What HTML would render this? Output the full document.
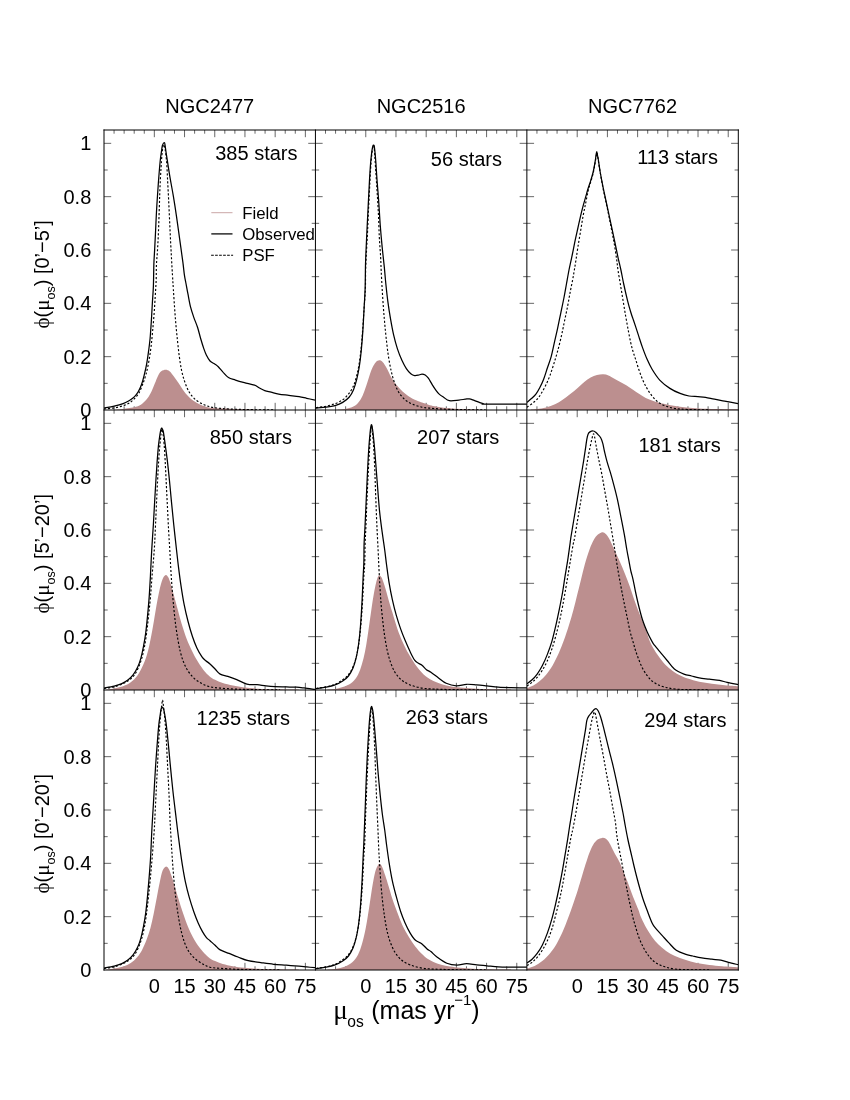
<!DOCTYPE html><html><head><meta charset="utf-8"><title>phi</title><style>
html,body{margin:0;padding:0;background:#fff}
svg{display:block;will-change:transform}
text{font-family:"Liberation Sans",sans-serif;fill:#000}
.sy{font-family:"Liberation Serif",serif}
</style></head><body>
<svg width="850" height="1100" viewBox="0 0 850 1100">
<rect width="850" height="1100" fill="#fff"/>
<defs>
<clipPath id="cp00"><rect x="104" y="130" width="211.43" height="280"/></clipPath>
<clipPath id="cp01"><rect x="315.43" y="130" width="211.44" height="280"/></clipPath>
<clipPath id="cp02"><rect x="526.87" y="130" width="211.43" height="280"/></clipPath>
<clipPath id="cp10"><rect x="104" y="410" width="211.43" height="280"/></clipPath>
<clipPath id="cp11"><rect x="315.43" y="410" width="211.44" height="280"/></clipPath>
<clipPath id="cp12"><rect x="526.87" y="410" width="211.43" height="280"/></clipPath>
<clipPath id="cp20"><rect x="104" y="690" width="211.43" height="280"/></clipPath>
<clipPath id="cp21"><rect x="315.43" y="690" width="211.44" height="280"/></clipPath>
<clipPath id="cp22"><rect x="526.87" y="690" width="211.43" height="280"/></clipPath>
</defs>
<path d="M114.07,130v3.7M114.07,410v-3.7M124.14,130v3.7M124.14,410v-3.7M134.2,130v3.7M134.2,410v-3.7M144.27,130v3.7M144.27,410v-3.7M154.34,130v7.2M154.34,410v-7.2M164.41,130v3.7M164.41,410v-3.7M174.48,130v3.7M174.48,410v-3.7M184.54,130v7.2M184.54,410v-7.2M194.61,130v3.7M194.61,410v-3.7M204.68,130v3.7M204.68,410v-3.7M214.75,130v7.2M214.75,410v-7.2M224.82,130v3.7M224.82,410v-3.7M234.89,130v3.7M234.89,410v-3.7M244.95,130v7.2M244.95,410v-7.2M255.02,130v3.7M255.02,410v-3.7M265.09,130v3.7M265.09,410v-3.7M275.16,130v7.2M275.16,410v-7.2M285.23,130v3.7M285.23,410v-3.7M295.29,130v3.7M295.29,410v-3.7M305.36,130v7.2M305.36,410v-7.2M104,383.33h3.7M315.43,383.33h-3.7M104,356.67h7.2M315.43,356.67h-7.2M104,330h3.7M315.43,330h-3.7M104,303.33h7.2M315.43,303.33h-7.2M104,276.67h3.7M315.43,276.67h-3.7M104,250h7.2M315.43,250h-7.2M104,223.33h3.7M315.43,223.33h-3.7M104,196.67h7.2M315.43,196.67h-7.2M104,170h3.7M315.43,170h-3.7M104,143.33h7.2M315.43,143.33h-7.2M325.5,130v3.7M325.5,410v-3.7M335.57,130v3.7M335.57,410v-3.7M345.63,130v3.7M345.63,410v-3.7M355.7,130v3.7M355.7,410v-3.7M365.77,130v7.2M365.77,410v-7.2M375.84,130v3.7M375.84,410v-3.7M385.91,130v3.7M385.91,410v-3.7M395.97,130v7.2M395.97,410v-7.2M406.04,130v3.7M406.04,410v-3.7M416.11,130v3.7M416.11,410v-3.7M426.18,130v7.2M426.18,410v-7.2M436.25,130v3.7M436.25,410v-3.7M446.32,130v3.7M446.32,410v-3.7M456.38,130v7.2M456.38,410v-7.2M466.45,130v3.7M466.45,410v-3.7M476.52,130v3.7M476.52,410v-3.7M486.59,130v7.2M486.59,410v-7.2M496.66,130v3.7M496.66,410v-3.7M506.72,130v3.7M506.72,410v-3.7M516.79,130v7.2M516.79,410v-7.2M315.43,383.33h3.7M526.87,383.33h-3.7M315.43,356.67h7.2M526.87,356.67h-7.2M315.43,330h3.7M526.87,330h-3.7M315.43,303.33h7.2M526.87,303.33h-7.2M315.43,276.67h3.7M526.87,276.67h-3.7M315.43,250h7.2M526.87,250h-7.2M315.43,223.33h3.7M526.87,223.33h-3.7M315.43,196.67h7.2M526.87,196.67h-7.2M315.43,170h3.7M526.87,170h-3.7M315.43,143.33h7.2M526.87,143.33h-7.2M536.94,130v3.7M536.94,410v-3.7M547.01,130v3.7M547.01,410v-3.7M557.07,130v3.7M557.07,410v-3.7M567.14,130v3.7M567.14,410v-3.7M577.21,130v7.2M577.21,410v-7.2M587.28,130v3.7M587.28,410v-3.7M597.35,130v3.7M597.35,410v-3.7M607.41,130v7.2M607.41,410v-7.2M617.48,130v3.7M617.48,410v-3.7M627.55,130v3.7M627.55,410v-3.7M637.62,130v7.2M637.62,410v-7.2M647.69,130v3.7M647.69,410v-3.7M657.76,130v3.7M657.76,410v-3.7M667.82,130v7.2M667.82,410v-7.2M677.89,130v3.7M677.89,410v-3.7M687.96,130v3.7M687.96,410v-3.7M698.03,130v7.2M698.03,410v-7.2M708.1,130v3.7M708.1,410v-3.7M718.16,130v3.7M718.16,410v-3.7M728.23,130v7.2M728.23,410v-7.2M526.87,383.33h3.7M738.3,383.33h-3.7M526.87,356.67h7.2M738.3,356.67h-7.2M526.87,330h3.7M738.3,330h-3.7M526.87,303.33h7.2M738.3,303.33h-7.2M526.87,276.67h3.7M738.3,276.67h-3.7M526.87,250h7.2M738.3,250h-7.2M526.87,223.33h3.7M738.3,223.33h-3.7M526.87,196.67h7.2M738.3,196.67h-7.2M526.87,170h3.7M738.3,170h-3.7M526.87,143.33h7.2M738.3,143.33h-7.2M114.07,410v3.7M114.07,690v-3.7M124.14,410v3.7M124.14,690v-3.7M134.2,410v3.7M134.2,690v-3.7M144.27,410v3.7M144.27,690v-3.7M154.34,410v7.2M154.34,690v-7.2M164.41,410v3.7M164.41,690v-3.7M174.48,410v3.7M174.48,690v-3.7M184.54,410v7.2M184.54,690v-7.2M194.61,410v3.7M194.61,690v-3.7M204.68,410v3.7M204.68,690v-3.7M214.75,410v7.2M214.75,690v-7.2M224.82,410v3.7M224.82,690v-3.7M234.89,410v3.7M234.89,690v-3.7M244.95,410v7.2M244.95,690v-7.2M255.02,410v3.7M255.02,690v-3.7M265.09,410v3.7M265.09,690v-3.7M275.16,410v7.2M275.16,690v-7.2M285.23,410v3.7M285.23,690v-3.7M295.29,410v3.7M295.29,690v-3.7M305.36,410v7.2M305.36,690v-7.2M104,663.33h3.7M315.43,663.33h-3.7M104,636.67h7.2M315.43,636.67h-7.2M104,610h3.7M315.43,610h-3.7M104,583.33h7.2M315.43,583.33h-7.2M104,556.67h3.7M315.43,556.67h-3.7M104,530h7.2M315.43,530h-7.2M104,503.33h3.7M315.43,503.33h-3.7M104,476.67h7.2M315.43,476.67h-7.2M104,450h3.7M315.43,450h-3.7M104,423.33h7.2M315.43,423.33h-7.2M325.5,410v3.7M325.5,690v-3.7M335.57,410v3.7M335.57,690v-3.7M345.63,410v3.7M345.63,690v-3.7M355.7,410v3.7M355.7,690v-3.7M365.77,410v7.2M365.77,690v-7.2M375.84,410v3.7M375.84,690v-3.7M385.91,410v3.7M385.91,690v-3.7M395.97,410v7.2M395.97,690v-7.2M406.04,410v3.7M406.04,690v-3.7M416.11,410v3.7M416.11,690v-3.7M426.18,410v7.2M426.18,690v-7.2M436.25,410v3.7M436.25,690v-3.7M446.32,410v3.7M446.32,690v-3.7M456.38,410v7.2M456.38,690v-7.2M466.45,410v3.7M466.45,690v-3.7M476.52,410v3.7M476.52,690v-3.7M486.59,410v7.2M486.59,690v-7.2M496.66,410v3.7M496.66,690v-3.7M506.72,410v3.7M506.72,690v-3.7M516.79,410v7.2M516.79,690v-7.2M315.43,663.33h3.7M526.87,663.33h-3.7M315.43,636.67h7.2M526.87,636.67h-7.2M315.43,610h3.7M526.87,610h-3.7M315.43,583.33h7.2M526.87,583.33h-7.2M315.43,556.67h3.7M526.87,556.67h-3.7M315.43,530h7.2M526.87,530h-7.2M315.43,503.33h3.7M526.87,503.33h-3.7M315.43,476.67h7.2M526.87,476.67h-7.2M315.43,450h3.7M526.87,450h-3.7M315.43,423.33h7.2M526.87,423.33h-7.2M536.94,410v3.7M536.94,690v-3.7M547.01,410v3.7M547.01,690v-3.7M557.07,410v3.7M557.07,690v-3.7M567.14,410v3.7M567.14,690v-3.7M577.21,410v7.2M577.21,690v-7.2M587.28,410v3.7M587.28,690v-3.7M597.35,410v3.7M597.35,690v-3.7M607.41,410v7.2M607.41,690v-7.2M617.48,410v3.7M617.48,690v-3.7M627.55,410v3.7M627.55,690v-3.7M637.62,410v7.2M637.62,690v-7.2M647.69,410v3.7M647.69,690v-3.7M657.76,410v3.7M657.76,690v-3.7M667.82,410v7.2M667.82,690v-7.2M677.89,410v3.7M677.89,690v-3.7M687.96,410v3.7M687.96,690v-3.7M698.03,410v7.2M698.03,690v-7.2M708.1,410v3.7M708.1,690v-3.7M718.16,410v3.7M718.16,690v-3.7M728.23,410v7.2M728.23,690v-7.2M526.87,663.33h3.7M738.3,663.33h-3.7M526.87,636.67h7.2M738.3,636.67h-7.2M526.87,610h3.7M738.3,610h-3.7M526.87,583.33h7.2M738.3,583.33h-7.2M526.87,556.67h3.7M738.3,556.67h-3.7M526.87,530h7.2M738.3,530h-7.2M526.87,503.33h3.7M738.3,503.33h-3.7M526.87,476.67h7.2M738.3,476.67h-7.2M526.87,450h3.7M738.3,450h-3.7M526.87,423.33h7.2M738.3,423.33h-7.2M114.07,690v3.7M114.07,970v-3.7M124.14,690v3.7M124.14,970v-3.7M134.2,690v3.7M134.2,970v-3.7M144.27,690v3.7M144.27,970v-3.7M154.34,690v7.2M154.34,970v-7.2M164.41,690v3.7M164.41,970v-3.7M174.48,690v3.7M174.48,970v-3.7M184.54,690v7.2M184.54,970v-7.2M194.61,690v3.7M194.61,970v-3.7M204.68,690v3.7M204.68,970v-3.7M214.75,690v7.2M214.75,970v-7.2M224.82,690v3.7M224.82,970v-3.7M234.89,690v3.7M234.89,970v-3.7M244.95,690v7.2M244.95,970v-7.2M255.02,690v3.7M255.02,970v-3.7M265.09,690v3.7M265.09,970v-3.7M275.16,690v7.2M275.16,970v-7.2M285.23,690v3.7M285.23,970v-3.7M295.29,690v3.7M295.29,970v-3.7M305.36,690v7.2M305.36,970v-7.2M104,943.33h3.7M315.43,943.33h-3.7M104,916.67h7.2M315.43,916.67h-7.2M104,890h3.7M315.43,890h-3.7M104,863.33h7.2M315.43,863.33h-7.2M104,836.67h3.7M315.43,836.67h-3.7M104,810h7.2M315.43,810h-7.2M104,783.33h3.7M315.43,783.33h-3.7M104,756.67h7.2M315.43,756.67h-7.2M104,730h3.7M315.43,730h-3.7M104,703.33h7.2M315.43,703.33h-7.2M325.5,690v3.7M325.5,970v-3.7M335.57,690v3.7M335.57,970v-3.7M345.63,690v3.7M345.63,970v-3.7M355.7,690v3.7M355.7,970v-3.7M365.77,690v7.2M365.77,970v-7.2M375.84,690v3.7M375.84,970v-3.7M385.91,690v3.7M385.91,970v-3.7M395.97,690v7.2M395.97,970v-7.2M406.04,690v3.7M406.04,970v-3.7M416.11,690v3.7M416.11,970v-3.7M426.18,690v7.2M426.18,970v-7.2M436.25,690v3.7M436.25,970v-3.7M446.32,690v3.7M446.32,970v-3.7M456.38,690v7.2M456.38,970v-7.2M466.45,690v3.7M466.45,970v-3.7M476.52,690v3.7M476.52,970v-3.7M486.59,690v7.2M486.59,970v-7.2M496.66,690v3.7M496.66,970v-3.7M506.72,690v3.7M506.72,970v-3.7M516.79,690v7.2M516.79,970v-7.2M315.43,943.33h3.7M526.87,943.33h-3.7M315.43,916.67h7.2M526.87,916.67h-7.2M315.43,890h3.7M526.87,890h-3.7M315.43,863.33h7.2M526.87,863.33h-7.2M315.43,836.67h3.7M526.87,836.67h-3.7M315.43,810h7.2M526.87,810h-7.2M315.43,783.33h3.7M526.87,783.33h-3.7M315.43,756.67h7.2M526.87,756.67h-7.2M315.43,730h3.7M526.87,730h-3.7M315.43,703.33h7.2M526.87,703.33h-7.2M536.94,690v3.7M536.94,970v-3.7M547.01,690v3.7M547.01,970v-3.7M557.07,690v3.7M557.07,970v-3.7M567.14,690v3.7M567.14,970v-3.7M577.21,690v7.2M577.21,970v-7.2M587.28,690v3.7M587.28,970v-3.7M597.35,690v3.7M597.35,970v-3.7M607.41,690v7.2M607.41,970v-7.2M617.48,690v3.7M617.48,970v-3.7M627.55,690v3.7M627.55,970v-3.7M637.62,690v7.2M637.62,970v-7.2M647.69,690v3.7M647.69,970v-3.7M657.76,690v3.7M657.76,970v-3.7M667.82,690v7.2M667.82,970v-7.2M677.89,690v3.7M677.89,970v-3.7M687.96,690v3.7M687.96,970v-3.7M698.03,690v7.2M698.03,970v-7.2M708.1,690v3.7M708.1,970v-3.7M718.16,690v3.7M718.16,970v-3.7M728.23,690v7.2M728.23,970v-7.2M526.87,943.33h3.7M738.3,943.33h-3.7M526.87,916.67h7.2M738.3,916.67h-7.2M526.87,890h3.7M738.3,890h-3.7M526.87,863.33h7.2M738.3,863.33h-7.2M526.87,836.67h3.7M738.3,836.67h-3.7M526.87,810h7.2M738.3,810h-7.2M526.87,783.33h3.7M738.3,783.33h-3.7M526.87,756.67h7.2M738.3,756.67h-7.2M526.87,730h3.7M738.3,730h-3.7M526.87,703.33h7.2M738.3,703.33h-7.2" stroke="#000" stroke-width="0.6" fill="none"/>
<g clip-path="url(#cp00)">
<path d="M116.73,409.62C117.79,409.51 119.91,409.45 123.09,408.98C126.27,408.52 132.63,407.71 135.81,406.82C138.99,405.93 140.27,405.02 142.18,403.64C144.08,402.26 145.67,400.67 147.27,398.55C148.86,396.42 150.45,393.45 151.72,390.91C152.99,388.36 153.84,385.82 154.9,383.27C155.96,380.73 157.02,377.65 158.08,375.64C159.14,373.62 159.99,372.18 161.26,371.18C162.54,370.18 164.34,369.65 165.72,369.65C167.1,369.65 168.26,370.18 169.53,371.18C170.81,372.18 171.97,373.83 173.35,375.64C174.73,377.44 176.21,379.67 177.81,382C179.4,384.33 181.2,387.3 182.9,389.64C184.59,391.97 186.29,394.2 187.99,396C189.68,397.8 191.17,399.08 193.08,400.45C194.98,401.83 197.32,403.21 199.44,404.27C201.56,405.33 204.04,406.25 205.8,406.82C207.56,407.39 208.03,407.48 210,407.71C211.97,407.94 214.45,408.05 217.64,408.22C220.82,408.39 224.85,408.54 229.09,408.73C233.33,408.92 238.84,409.19 243.09,409.36C247.33,409.53 252.63,409.68 254.54,409.75L254.54,411 L116.73,411 Z" fill="#bc8f8f"/>
<path d="M104,408.98C106.12,408.73 112.91,408.24 116.73,407.45C120.54,406.67 124.15,405.55 126.91,404.27C129.66,403 131.32,401.62 133.27,399.82C135.22,398.02 137.06,396 138.61,393.45C140.16,390.91 141.33,387.73 142.56,384.55C143.79,381.36 144.95,378.18 145.99,374.36C147.03,370.55 147.94,366.3 148.79,361.64C149.64,356.97 150.45,351.45 151.08,346.36C151.72,341.27 152.1,336.61 152.61,331.09C153.12,325.58 153.69,319.21 154.14,313.27C154.58,307.33 154.94,300.97 155.28,295.45C155.62,289.94 155.98,285.27 156.17,280.18C156.36,275.09 156.22,269.79 156.43,264.91C156.64,260.03 157.11,256.42 157.45,250.91C157.78,245.39 158.15,239.24 158.46,231.82C158.78,224.39 159.1,213.79 159.35,206.36C159.61,198.94 159.71,193.64 159.99,187.27C160.27,180.91 160.69,173.48 161.01,168.18C161.33,162.88 161.6,158.85 161.9,155.45C162.2,152.06 162.51,149.62 162.79,147.82C163.07,146.02 163.3,144.95 163.55,144.64C163.81,144.32 164.06,145.17 164.32,145.91C164.57,146.65 164.7,146.44 165.08,149.09C165.46,151.74 166.18,156.52 166.61,161.82C167.03,167.12 167.29,174.55 167.63,180.91C167.96,187.27 168.33,193.64 168.64,200C168.96,206.36 169.24,212.73 169.53,219.09C169.83,225.45 170.11,231.82 170.42,238.18C170.74,244.55 171.1,251.12 171.44,257.27C171.78,263.42 172.14,269.79 172.46,275.09C172.78,280.39 172.99,283.58 173.35,289.09C173.71,294.61 174.2,302.24 174.62,308.18C175.05,314.12 175.41,319.21 175.9,324.73C176.38,330.24 176.98,335.97 177.55,341.27C178.12,346.58 178.65,351.67 179.33,356.55C180.01,361.42 180.71,366.3 181.62,370.55C182.54,374.79 183.53,378.39 184.8,382C186.08,385.61 187.46,389.21 189.26,392.18C191.06,395.15 193.29,397.8 195.62,399.82C197.95,401.83 200.86,403.11 203.26,404.27C205.65,405.44 207.6,406.18 210,406.82C212.4,407.45 214.45,407.73 217.64,408.09C220.82,408.45 224,408.73 229.09,408.98C234.18,409.24 240.75,409.47 248.18,409.62C255.6,409.77 269.38,409.83 273.63,409.87" fill="none" stroke="#000" stroke-width="1.15" stroke-dasharray="2.1 1.9"/>
<path d="M104,408.09C105.7,407.77 111,406.92 114.18,406.18C117.36,405.44 120.54,404.59 123.09,403.64C125.63,402.68 127.54,401.62 129.45,400.45C131.36,399.29 133.06,398.12 134.54,396.64C136.02,395.15 137.19,393.56 138.36,391.55C139.52,389.53 140.58,387.2 141.54,384.55C142.49,381.89 143.24,379.03 144.08,375.64C144.93,372.24 145.89,368.21 146.63,364.18C147.37,360.15 147.97,355.7 148.54,351.45C149.11,347.21 149.6,343.82 150.06,338.73C150.53,333.64 150.96,326.85 151.34,320.91C151.72,314.97 152.02,308.82 152.36,303.09C152.69,297.36 153.12,293.12 153.37,286.55C153.63,279.97 153.67,269.79 153.88,263.64C154.09,257.48 154.37,254.94 154.65,249.64C154.92,244.33 155.24,237.97 155.54,231.82C155.83,225.67 156.11,218.67 156.43,212.73C156.75,206.79 157.06,201.91 157.45,196.18C157.83,190.45 158.25,184.3 158.72,178.36C159.18,172.42 159.76,165.21 160.24,160.55C160.73,155.88 161.28,152.87 161.64,150.36C162.01,147.86 161.94,146.8 162.41,145.53C162.87,144.25 163.98,142.6 164.44,142.73C164.91,142.85 164.93,144.64 165.21,146.29C165.48,147.95 165.65,149.68 166.1,152.65C166.54,155.62 167.2,159.82 167.88,164.11C168.56,168.39 169.26,173.02 170.17,178.36C171.08,183.71 172.29,189.82 173.35,196.18C174.41,202.55 175.47,209.33 176.53,216.55C177.59,223.76 178.65,231.82 179.71,239.45C180.77,247.09 182.11,256.42 182.9,262.36C183.68,268.3 183.89,271.48 184.42,275.09C184.95,278.7 185.48,280.82 186.08,284C186.67,287.18 187.24,290.36 187.99,294.18C188.73,298 189.58,303.09 190.53,306.91C191.48,310.73 192.55,313.7 193.71,317.09C194.88,320.48 196.36,323.67 197.53,327.27C198.7,330.88 199.65,335.12 200.71,338.73C201.77,342.33 202.94,346.15 203.89,348.91C204.85,351.67 205.42,353.26 206.44,355.27C207.45,357.29 208.56,359.52 210,361C211.44,362.48 213.71,363.23 215.09,364.18C216.47,365.14 217,365.45 218.27,366.73C219.54,368 221.03,370.02 222.73,371.82C224.42,373.62 226.33,376.17 228.45,377.55C230.57,378.92 232.8,379.24 235.45,380.09C238.1,380.94 241.18,381.79 244.36,382.64C247.54,383.48 252.1,384.33 254.54,385.18C256.98,386.03 257.29,386.82 258.99,387.73C260.69,388.64 262.7,389.91 264.72,390.65C266.73,391.4 268.75,391.61 271.08,392.18C273.41,392.75 275.75,393.56 278.72,394.09C281.68,394.62 285.5,394.94 288.9,395.36C292.29,395.79 296.11,396.15 299.08,396.64C302.04,397.12 304.06,397.72 306.71,398.29C309.36,398.86 313.6,399.78 314.98,400.07" fill="none" stroke="#000" stroke-width="1.25" stroke-linejoin="round"/>
</g>
<g clip-path="url(#cp01)">
<path d="M337.63,409.62C338.91,409.51 342.72,409.45 345.27,408.98C347.81,408.52 350.78,407.82 352.9,406.82C355.02,405.82 356.4,404.8 357.99,403C359.58,401.2 361.07,398.86 362.45,396C363.83,393.14 365.1,389.21 366.26,385.82C367.43,382.42 368.38,378.71 369.45,375.64C370.51,372.56 371.57,369.59 372.63,367.36C373.69,365.14 374.68,363.44 375.81,362.27C376.93,361.11 378.2,360.36 379.37,360.36C380.54,360.36 381.6,361 382.81,362.27C384.02,363.55 385.25,365.56 386.62,368C388,370.44 389.49,374.15 391.08,376.91C392.67,379.67 394.26,382.11 396.17,384.55C398.08,386.98 400.2,389.42 402.53,391.55C404.86,393.67 407.62,395.68 410.17,397.27C412.71,398.86 415.83,400.2 417.8,401.09C419.77,401.98 420.24,402.02 422,402.62C423.76,403.21 426.24,404.06 428.36,404.65C430.48,405.25 432.18,405.67 434.73,406.18C437.27,406.69 440.24,407.28 443.63,407.71C447.03,408.13 451.27,408.45 455.09,408.73C458.9,409 462.51,409.19 466.54,409.36C470.57,409.53 477.14,409.68 479.26,409.75L479.26,411 L337.63,411 Z" fill="#bc8f8f"/>
<path d="M316,407.71C317.7,407.45 323,406.86 326.18,406.18C329.36,405.5 332.33,404.7 335.09,403.64C337.84,402.58 340.5,401.41 342.72,399.82C344.95,398.23 346.75,396.21 348.45,394.09C350.15,391.97 351.63,389.74 352.9,387.09C354.18,384.44 355.13,381.58 356.08,378.18C357.04,374.79 357.84,371.18 358.63,366.73C359.41,362.27 360.13,357.39 360.79,351.45C361.45,345.52 362.02,338.3 362.57,331.09C363.13,323.88 363.63,315.18 364.1,308.18C364.57,301.18 365.12,295.45 365.37,289.09C365.63,282.73 365.44,276.36 365.63,270C365.82,263.64 366.2,257.27 366.52,250.91C366.84,244.55 367.18,239.24 367.54,231.82C367.9,224.39 368.28,214.85 368.68,206.36C369.08,197.88 369.55,188.33 369.95,180.91C370.36,173.48 370.72,166.8 371.1,161.82C371.48,156.83 371.93,153.59 372.24,151C372.56,148.41 372.8,147.25 373.01,146.29C373.22,145.34 373.35,145.27 373.52,145.27C373.69,145.27 373.86,145.23 374.03,146.29C374.2,147.35 374.34,149.05 374.54,151.64C374.73,154.22 374.79,155.88 375.17,161.82C375.55,167.76 376.3,178.79 376.83,187.27C377.36,195.76 377.93,204.24 378.35,212.73C378.78,221.21 378.99,230.76 379.37,238.18C379.75,245.61 380.35,251.97 380.64,257.27C380.94,262.58 380.9,264.7 381.15,270C381.41,275.3 381.79,282.73 382.17,289.09C382.55,295.45 383.02,302.45 383.44,308.18C383.87,313.91 384.25,318.36 384.72,323.45C385.18,328.55 385.65,333.42 386.24,338.73C386.84,344.03 387.47,349.97 388.28,355.27C389.08,360.58 390.08,366.09 391.08,370.55C392.07,375 392.99,378.39 394.26,382C395.53,385.61 396.91,389.21 398.71,392.18C400.52,395.15 402.74,397.8 405.08,399.82C407.41,401.83 409.89,403.04 412.71,404.27C415.53,405.5 419.18,406.56 422,407.2C424.82,407.84 426.45,407.79 429.64,408.09C432.82,408.39 436,408.73 441.09,408.98C446.18,409.24 452.75,409.47 460.18,409.62C467.6,409.77 481.38,409.83 485.63,409.87" fill="none" stroke="#000" stroke-width="1.15" stroke-dasharray="2.1 1.9"/>
<path d="M316,408.09C317.7,407.94 323,407.62 326.18,407.2C329.36,406.78 332.33,406.35 335.09,405.55C337.84,404.74 340.39,403.74 342.72,402.36C345.06,400.98 347.28,399.39 349.09,397.27C350.89,395.15 352.27,392.61 353.54,389.64C354.81,386.67 355.77,383.27 356.72,379.45C357.67,375.64 358.52,371.39 359.27,366.73C360.01,362.06 360.58,357.39 361.17,351.45C361.77,345.52 362.34,338.3 362.83,331.09C363.32,323.88 363.72,315.18 364.1,308.18C364.48,301.18 364.89,296.3 365.12,289.09C365.35,281.88 365.35,271.27 365.5,264.91C365.65,258.55 365.78,256.42 366.01,250.91C366.24,245.39 366.54,239.24 366.9,231.82C367.26,224.39 367.75,214.85 368.17,206.36C368.6,197.88 369.02,188.33 369.45,180.91C369.87,173.48 370.29,166.91 370.72,161.82C371.14,156.73 371.63,153.02 371.99,150.36C372.35,147.71 372.63,146.8 372.88,145.91C373.14,145.02 373.31,145.02 373.52,145.02C373.73,145.02 373.94,145.02 374.15,145.91C374.37,146.8 374.51,147.71 374.79,150.36C375.07,153.02 375.43,156.73 375.81,161.82C376.19,166.91 376.61,174.55 377.08,180.91C377.55,187.27 378.08,192.58 378.61,200C379.14,207.42 379.67,217.61 380.26,225.45C380.86,233.3 381.51,240.3 382.17,247.09C382.83,253.88 383.57,259.82 384.21,266.18C384.84,272.55 385.37,279.33 385.99,285.27C386.6,291.21 387.15,296.3 387.9,301.82C388.64,307.33 389.49,312.85 390.44,318.36C391.4,323.88 392.46,329.82 393.62,334.91C394.79,340 396.06,344.67 397.44,348.91C398.82,353.15 400.41,357.08 401.89,360.36C403.38,363.65 404.86,366.41 406.35,368.64C407.83,370.86 409.42,372.56 410.8,373.73C412.18,374.89 413.24,375.42 414.62,375.64C416,375.85 417.84,375.25 419.07,375C420.3,374.75 420.98,374.11 422,374.11C423.02,374.11 424.12,374.32 425.18,375C426.24,375.68 427.2,376.59 428.36,378.18C429.53,379.77 430.91,382.53 432.18,384.55C433.45,386.56 434.83,388.68 436,390.27C437.16,391.86 437.91,392.92 439.18,394.09C440.45,395.26 441.94,396.17 443.63,397.27C445.33,398.38 446.81,400.24 449.36,400.71C451.9,401.18 456.25,400.33 458.9,400.07C461.55,399.82 463.53,399.39 465.27,399.18C467,398.97 467.85,398.59 469.34,398.8C470.82,399.01 472.52,399.86 474.17,400.45C475.83,401.05 477.67,401.79 479.26,402.36C480.85,402.94 482.66,403.62 483.72,403.89C484.78,404.17 478.24,404 485.63,404.02C493.01,404.04 520.94,404.02 528,404.02" fill="none" stroke="#000" stroke-width="1.25" stroke-linejoin="round"/>
</g>
<g clip-path="url(#cp02)">
<path d="M530.82,409.62C531.88,409.51 534.64,409.34 537.18,408.98C539.73,408.62 543.12,408.24 546.09,407.45C549.06,406.67 552.24,405.55 555,404.27C557.75,403 560.09,401.52 562.63,399.82C565.18,398.12 567.72,396.11 570.27,394.09C572.81,392.08 575.57,389.74 577.9,387.73C580.23,385.71 582.14,383.7 584.26,382C586.38,380.3 588.5,378.71 590.63,377.55C592.75,376.38 594.87,375.53 596.99,375C599.11,374.47 601.44,374.3 603.35,374.36C605.26,374.43 606.74,374.75 608.44,375.38C610.14,376.02 611.62,377.12 613.53,378.18C615.44,379.24 617.77,380.58 619.89,381.75C622.01,382.91 624.07,383.87 626.26,385.18C628.44,386.5 630.82,388.15 633,389.64C635.18,391.12 637.24,392.71 639.36,394.09C641.48,395.47 643.39,396.76 645.73,397.91C648.06,399.05 650.6,400.03 653.36,400.96C656.12,401.9 658.87,402.7 662.27,403.51C665.66,404.32 669.69,405.14 673.72,405.8C677.75,406.46 682.2,407.01 686.45,407.45C690.69,407.9 694.29,408.2 699.17,408.47C704.05,408.75 709.24,408.94 715.71,409.11C722.18,409.28 734.27,409.43 737.98,409.49L737.98,411 L530.82,411 Z" fill="#bc8f8f"/>
<path d="M527,407.2C527.85,406.61 530.39,404.97 532.09,403.64C533.79,402.3 535.59,400.98 537.18,399.18C538.77,397.38 540.15,395.26 541.63,392.82C543.12,390.38 544.71,387.41 546.09,384.55C547.47,381.68 548.63,379.03 549.91,375.64C551.18,372.24 552.45,368.21 553.72,364.18C555,360.15 556.27,356.12 557.54,351.45C558.81,346.79 560.19,341.27 561.36,336.18C562.52,331.09 563.48,326 564.54,320.91C565.6,315.82 566.77,310.52 567.72,305.64C568.67,300.76 569.42,296.09 570.27,291.64C571.11,287.18 572.13,282.52 572.81,278.91C573.49,275.3 573.81,273.18 574.34,270C574.87,266.82 575.4,263.64 575.99,259.82C576.59,256 577.16,251.76 577.9,247.09C578.64,242.42 579.6,236.91 580.45,231.82C581.29,226.73 582.14,221.21 582.99,216.55C583.84,211.88 584.69,208.06 585.54,203.82C586.38,199.58 587.23,194.7 588.08,191.09C588.93,187.48 589.78,185.15 590.63,182.18C591.47,179.21 592.43,176.45 593.17,173.27C593.91,170.09 594.57,165.95 595.08,163.09C595.59,160.23 595.91,157.79 596.22,156.09C596.54,154.39 596.73,152.8 596.99,152.91C597.24,153.02 597.43,154.82 597.75,156.73C598.07,158.64 598.39,161.18 598.9,164.36C599.41,167.55 600.06,171.58 600.81,175.82C601.55,180.06 602.29,184.52 603.35,189.82C604.41,195.12 605.9,201.48 607.17,207.64C608.44,213.79 609.82,220.79 610.99,226.73C612.15,232.67 613.21,237.76 614.17,243.27C615.12,248.79 616.08,255.36 616.71,259.82C617.35,264.27 617.35,265.76 617.98,270C618.62,274.24 619.68,280.18 620.53,285.27C621.38,290.36 622.23,295.45 623.07,300.55C623.92,305.64 624.77,310.94 625.62,315.82C626.47,320.7 627.32,325.36 628.16,329.82C629.01,334.27 629.9,338.94 630.71,342.55C631.52,346.15 632.19,348.7 633,351.45C633.81,354.21 634.59,356.12 635.55,359.09C636.5,362.06 637.56,365.88 638.73,369.27C639.89,372.67 641.17,376.27 642.54,379.45C643.92,382.64 645.41,385.61 647,388.36C648.59,391.12 650.18,393.67 652.09,396C654,398.33 656.12,400.67 658.45,402.36C660.78,404.06 663.33,405.16 666.09,406.18C668.84,407.2 671.39,407.92 674.99,408.47C678.6,409.02 681.99,409.26 687.72,409.49C693.44,409.72 705.75,409.81 709.35,409.87" fill="none" stroke="#000" stroke-width="1.15" stroke-dasharray="2.1 1.9"/>
<path d="M527,402.36C527.74,401.73 529.97,399.92 531.45,398.55C532.94,397.17 534.53,395.89 535.91,394.09C537.29,392.29 538.45,390.17 539.73,387.73C541,385.29 542.27,382.74 543.54,379.45C544.82,376.17 546.09,371.82 547.36,368C548.63,364.18 550.01,360.79 551.18,356.55C552.34,352.3 553.3,347.21 554.36,342.55C555.42,337.88 556.48,333.42 557.54,328.55C558.6,323.67 559.66,318.36 560.72,313.27C561.78,308.18 562.95,302.88 563.9,298C564.86,293.12 565.6,288.67 566.45,284C567.3,279.33 568.25,273.82 568.99,270C569.74,266.18 570.27,264.06 570.9,261.09C571.54,258.12 572.07,255.79 572.81,252.18C573.55,248.58 574.51,243.48 575.36,239.45C576.2,235.42 577.05,231.82 577.9,228C578.75,224.18 579.6,220.15 580.45,216.55C581.29,212.94 582.14,209.55 582.99,206.36C583.84,203.18 584.69,200.42 585.54,197.45C586.38,194.48 587.23,191.3 588.08,188.55C588.93,185.79 589.78,183.67 590.63,180.91C591.47,178.15 592.43,175.18 593.17,172C593.91,168.82 594.59,164.68 595.08,161.82C595.57,158.95 595.82,156.52 596.1,154.82C596.37,153.12 596.52,151.64 596.73,151.64C596.95,151.64 597.12,153.55 597.37,154.82C597.62,156.09 597.79,156.41 598.26,159.27C598.73,162.14 599.32,167.12 600.17,172C601.02,176.88 602.18,182.82 603.35,188.55C604.52,194.27 605.9,200.42 607.17,206.36C608.44,212.3 609.71,218.24 610.99,224.18C612.26,230.12 613.64,236.48 614.8,242C615.97,247.52 616.97,252.61 617.98,257.27C619,261.94 619.96,265.55 620.91,270C621.87,274.45 622.61,278.91 623.71,284C624.81,289.09 626.36,295.88 627.53,300.55C628.69,305.21 629.8,308.95 630.71,312C631.62,315.05 632.19,316.48 633,318.87C633.81,321.27 634.59,323.5 635.55,326.38C636.5,329.27 637.56,332.64 638.73,336.18C639.89,339.72 641.17,343.82 642.54,347.64C643.92,351.45 645.41,355.48 647,359.09C648.59,362.7 649.97,365.77 652.09,369.27C654.21,372.77 656.75,376.91 659.72,380.09C662.69,383.27 666.51,386.14 669.9,388.36C673.3,390.59 676.9,392.18 680.08,393.45C683.26,394.73 686.02,395.47 688.99,396C691.96,396.53 695.14,396.42 697.9,396.64C700.66,396.85 702.78,396.85 705.53,397.27C708.29,397.7 711.26,398.55 714.44,399.18C717.62,399.82 720.7,400.35 724.62,401.09C728.54,401.83 735.76,403.21 737.98,403.64" fill="none" stroke="#000" stroke-width="1.25" stroke-linejoin="round"/>
</g>
<g clip-path="url(#cp10)">
<path d="M106.55,689.62C107.39,689.51 108.88,689.55 111.64,688.98C114.39,688.41 119.91,687.28 123.09,686.18C126.27,685.08 128.39,684.06 130.72,682.36C133.06,680.67 135.18,678.55 137.09,676C138.99,673.45 140.58,670.48 142.18,667.09C143.77,663.7 145.36,659.67 146.63,655.64C147.9,651.61 148.75,647.79 149.81,642.91C150.87,638.03 151.93,632.3 152.99,626.36C154.05,620.42 155.11,613.21 156.17,607.27C157.23,601.33 158.29,595.39 159.35,590.73C160.41,586.06 161.47,581.88 162.54,579.27C163.6,576.66 164.76,575.39 165.72,575.07C166.67,574.75 167.41,575.82 168.26,577.36C169.11,578.91 169.85,581.29 170.81,584.36C171.76,587.44 172.82,591.58 173.99,595.82C175.15,600.06 176.53,605.15 177.81,609.82C179.08,614.48 180.14,618.94 181.62,623.82C183.11,628.7 185.02,634.64 186.71,639.09C188.41,643.55 190.11,647.05 191.8,650.55C193.5,654.05 194.98,656.91 196.89,660.09C198.8,663.27 201.07,666.88 203.26,669.64C205.44,672.39 208.03,674.94 210,676.64C211.97,678.33 212.97,678.76 215.09,679.82C217.21,680.88 219.76,682.05 222.73,683C225.69,683.95 229.3,684.8 232.91,685.55C236.51,686.29 240.12,686.92 244.36,687.45C248.6,687.98 253.48,688.41 258.36,688.73C263.23,689.05 266.84,689.19 273.63,689.36C280.41,689.53 294.83,689.68 299.08,689.75L299.08,691 L106.55,691 Z" fill="#bc8f8f"/>
<path d="M104,688.47C105.7,688.2 111,687.62 114.18,686.82C117.36,686.01 120.54,684.8 123.09,683.64C125.63,682.47 127.54,681.3 129.45,679.82C131.36,678.33 133.01,676.85 134.54,674.73C136.07,672.61 137.4,669.85 138.61,667.09C139.82,664.33 140.82,661.58 141.79,658.18C142.77,654.79 143.66,650.97 144.47,646.73C145.27,642.48 145.95,637.82 146.63,632.73C147.31,627.64 147.9,622.12 148.54,616.18C149.17,610.24 149.85,603.88 150.45,597.09C151.04,590.3 151.46,583.3 152.1,575.45C152.74,567.61 153.69,558.48 154.26,550C154.84,541.52 155.11,533.45 155.54,524.55C155.96,515.64 156.38,505.45 156.81,496.55C157.23,487.64 157.66,478.73 158.08,471.09C158.51,463.45 158.93,456.24 159.35,450.73C159.78,445.21 160.29,441.29 160.63,438C160.97,434.71 161.18,432.48 161.39,431C161.6,429.52 161.71,428.98 161.9,429.09C162.09,429.2 162.26,430.15 162.54,431.64C162.81,433.12 163.17,434.18 163.55,438C163.94,441.82 164.4,447.55 164.83,454.55C165.25,461.55 165.67,471.52 166.1,480C166.52,488.48 166.95,496.97 167.37,505.45C167.8,513.94 168.24,523.48 168.64,530.91C169.05,538.33 169.43,543.64 169.79,550C170.15,556.36 170.42,562.73 170.81,569.09C171.19,575.45 171.59,581.82 172.08,588.18C172.57,594.55 173.16,601.33 173.73,607.27C174.31,613.21 174.84,618.52 175.52,623.82C176.19,629.12 177,634.42 177.81,639.09C178.61,643.76 179.4,648 180.35,651.82C181.3,655.64 182.26,658.82 183.53,662C184.8,665.18 186.18,668.15 187.99,670.91C189.79,673.67 192.02,676.42 194.35,678.55C196.68,680.67 199.37,682.26 201.98,683.64C204.59,685.02 206.97,686.08 210,686.82C213.03,687.56 215.94,687.71 220.18,688.09C224.42,688.47 229.72,688.85 235.45,689.11C241.18,689.36 247.11,689.49 254.54,689.62C261.96,689.75 275.75,689.83 279.99,689.87" fill="none" stroke="#000" stroke-width="1.15" stroke-dasharray="2.1 1.9"/>
<path d="M104,688.09C105.7,687.77 111.21,686.92 114.18,686.18C117.15,685.44 119.48,684.7 121.82,683.64C124.15,682.58 126.27,681.3 128.18,679.82C130.09,678.33 131.68,676.85 133.27,674.73C134.86,672.61 136.45,669.85 137.72,667.09C138.99,664.33 139.95,661.58 140.9,658.18C141.86,654.79 142.64,650.97 143.45,646.73C144.25,642.48 145.06,637.82 145.74,632.73C146.42,627.64 146.95,622.12 147.52,616.18C148.09,610.24 148.69,603.88 149.17,597.09C149.66,590.3 150.02,583.3 150.45,575.45C150.87,567.61 151.23,558.48 151.72,550C152.21,541.52 152.89,532.61 153.37,524.55C153.86,516.48 154.22,509.06 154.65,501.64C155.07,494.21 155.49,486.79 155.92,480C156.34,473.21 156.77,466.64 157.19,460.91C157.62,455.18 158,450.09 158.46,445.64C158.93,441.18 159.59,436.83 159.99,434.18C160.39,431.53 160.61,430.79 160.88,429.73C161.16,428.67 161.37,427.88 161.64,427.82C161.92,427.75 162.22,428.5 162.54,429.35C162.85,430.19 163.09,430.19 163.55,432.91C164.02,435.62 164.7,440.97 165.33,445.64C165.97,450.3 166.67,454.97 167.37,460.91C168.07,466.85 168.86,474.48 169.53,481.27C170.21,488.06 170.74,494.42 171.44,501.64C172.14,508.85 172.89,516.48 173.73,524.55C174.58,532.61 175.75,543 176.53,550C177.32,557 177.7,560.61 178.44,566.55C179.18,572.48 180.03,579.27 180.99,585.64C181.94,592 183,598.79 184.17,604.73C185.33,610.67 186.61,615.97 187.99,621.27C189.36,626.58 190.95,632.09 192.44,636.55C193.92,641 195.3,644.61 196.89,648C198.48,651.39 200.5,654.79 201.98,656.91C203.47,659.03 204.46,659.56 205.8,660.73C207.14,661.89 208.45,662.53 210,663.91C211.55,665.29 213.39,667.3 215.09,669C216.79,670.7 218.06,672.86 220.18,674.09C222.3,675.32 225.06,675.47 227.82,676.38C230.57,677.29 233.54,678.29 236.72,679.56C239.9,680.84 243.51,683.17 246.9,684.02C250.3,684.87 253.9,684.34 257.08,684.65C260.26,684.97 263.02,685.59 265.99,685.93C268.96,686.27 271.5,686.52 274.9,686.69C278.29,686.86 282.75,686.86 286.35,686.95C289.96,687.03 293.56,687.03 296.53,687.2C299.5,687.37 301.09,687.6 304.17,687.96C307.24,688.32 313.18,689.13 314.98,689.36" fill="none" stroke="#000" stroke-width="1.25" stroke-linejoin="round"/>
</g>
<g clip-path="url(#cp11)">
<path d="M327.45,689.62C328.73,689.51 332.12,689.55 335.09,688.98C338.06,688.41 342.4,687.28 345.27,686.18C348.13,685.08 350.15,684.27 352.27,682.36C354.39,680.45 356.4,677.7 357.99,674.73C359.58,671.76 360.64,668.36 361.81,664.55C362.98,660.73 364.04,656.48 364.99,651.82C365.95,647.15 366.69,642.06 367.54,636.55C368.38,631.03 369.23,624.67 370.08,618.73C370.93,612.79 371.78,606.21 372.63,600.91C373.47,595.61 374.32,590.83 375.17,586.91C376.02,582.98 376.97,579.27 377.72,577.36C378.46,575.45 378.88,575.24 379.63,575.45C380.37,575.67 381.22,576.52 382.17,578.64C383.12,580.76 384.29,584.68 385.35,588.18C386.41,591.68 387.37,595.61 388.53,599.64C389.7,603.67 390.87,607.48 392.35,612.36C393.84,617.24 395.74,624.03 397.44,628.91C399.14,633.79 400.62,637.39 402.53,641.64C404.44,645.88 406.77,650.55 408.89,654.36C411.01,658.18 413.07,661.47 415.26,664.55C417.44,667.62 420.03,670.7 422,672.82C423.97,674.94 425.18,675.89 427.09,677.27C429,678.65 431.12,679.99 433.45,681.09C435.79,682.19 438.33,683.04 441.09,683.89C443.84,684.74 446.81,685.59 450,686.18C453.18,686.78 456.36,687.07 460.18,687.45C463.99,687.84 468.66,688.2 472.9,688.47C477.14,688.75 479.26,688.92 485.63,689.11C491.99,689.3 506.83,689.53 511.08,689.62L511.08,691 L327.45,691 Z" fill="#bc8f8f"/>
<path d="M316,688.47C317.7,688.2 323,687.52 326.18,686.82C329.36,686.12 332.33,685.44 335.09,684.27C337.84,683.11 340.5,681.41 342.72,679.82C344.95,678.23 346.75,676.85 348.45,674.73C350.15,672.61 351.63,669.95 352.9,667.09C354.18,664.23 355.17,661.05 356.08,657.55C357,654.05 357.7,650.33 358.37,646.09C359.05,641.85 359.63,637.08 360.16,632.09C360.69,627.11 361.13,621.8 361.56,616.18C361.98,610.56 362.34,604.73 362.7,598.36C363.06,592 363.38,583.94 363.72,578C364.06,572.06 364.5,568.45 364.74,562.73C364.97,557 364.93,549.58 365.12,543.64C365.31,537.7 365.59,534.09 365.88,527.09C366.18,520.09 366.52,510.55 366.9,501.64C367.28,492.73 367.75,482.12 368.17,473.64C368.6,465.15 369.06,457.09 369.45,450.73C369.83,444.36 370.19,439.27 370.46,435.45C370.74,431.64 370.93,429.52 371.1,427.82C371.27,426.12 371.35,425.27 371.48,425.27C371.61,425.27 371.65,426.12 371.86,427.82C372.08,429.52 372.41,431.64 372.75,435.45C373.09,439.27 373.54,444.36 373.9,450.73C374.26,457.09 374.6,465.58 374.92,473.64C375.24,481.7 375.49,490.61 375.81,499.09C376.13,507.58 376.44,516.06 376.83,524.55C377.21,533.03 377.74,542.58 378.1,550C378.46,557.42 378.67,562.73 378.99,569.09C379.31,575.45 379.65,582.24 380.01,588.18C380.37,594.12 380.69,599.21 381.15,604.73C381.62,610.24 382.21,615.97 382.81,621.27C383.4,626.58 383.97,631.67 384.72,636.55C385.46,641.42 386.31,646.3 387.26,650.55C388.21,654.79 389.17,658.39 390.44,662C391.71,665.61 393.09,669.21 394.9,672.18C396.7,675.15 398.71,677.7 401.26,679.82C403.8,681.94 406.71,683.53 410.17,684.91C413.62,686.29 417.91,687.39 422,688.09C426.09,688.79 428.36,688.83 434.73,689.11C441.09,689.38 451.69,689.62 460.18,689.75C468.66,689.87 481.38,689.85 485.63,689.87" fill="none" stroke="#000" stroke-width="1.15" stroke-dasharray="2.1 1.9"/>
<path d="M316,688.73C317.7,688.47 323,687.84 326.18,687.2C329.36,686.56 332.33,685.93 335.09,684.91C337.84,683.89 340.5,682.58 342.72,681.09C344.95,679.61 346.75,678.12 348.45,676C350.15,673.88 351.63,671.33 352.9,668.36C354.18,665.39 355.19,661.79 356.08,658.18C356.97,654.58 357.61,650.97 358.25,646.73C358.88,642.48 359.41,637.82 359.9,632.73C360.39,627.64 360.79,621.91 361.17,616.18C361.56,610.45 361.87,604.73 362.19,598.36C362.51,592 362.81,583.94 363.08,578C363.36,572.06 363.68,568.45 363.85,562.73C364.02,557 363.91,549.58 364.1,543.64C364.29,537.7 364.63,534.52 364.99,527.09C365.35,519.67 365.84,508.42 366.26,499.09C366.69,489.76 367.11,479.58 367.54,471.09C367.96,462.61 368.38,454.55 368.81,448.18C369.23,441.82 369.74,436.52 370.08,432.91C370.42,429.3 370.61,427.92 370.85,426.55C371.08,425.17 371.27,424.64 371.48,424.64C371.69,424.64 371.86,425.17 372.12,426.55C372.37,427.92 372.61,429.3 373.01,432.91C373.41,436.52 374.03,442.45 374.54,448.18C375.04,453.91 375.53,460.48 376.06,467.27C376.59,474.06 377.12,481.48 377.72,488.91C378.31,496.33 378.88,504.61 379.63,511.82C380.37,519.03 381.32,525.82 382.17,532.18C383.02,538.55 383.97,544.48 384.72,550C385.46,555.52 385.88,559.76 386.62,565.27C387.37,570.79 388.21,577.36 389.17,583.09C390.12,588.82 391.18,594.33 392.35,599.64C393.52,604.94 394.79,610.03 396.17,614.91C397.55,619.79 399.14,624.67 400.62,628.91C402.11,633.15 403.48,636.55 405.08,640.36C406.67,644.18 408.58,648.53 410.17,651.82C411.76,655.11 413.24,658.18 414.62,660.09C416,662 417.21,662.42 418.44,663.27C419.67,664.12 420.66,664.12 422,665.18C423.34,666.24 424.97,668.47 426.45,669.64C427.94,670.8 428.89,670.8 430.91,672.18C432.92,673.56 436,676.06 438.54,677.91C441.09,679.75 443.21,681.94 446.18,683.25C449.15,684.57 452.96,685.63 456.36,685.8C459.75,685.97 463.14,684.42 466.54,684.27C469.93,684.12 473.32,684.63 476.72,684.91C480.11,685.18 483.29,685.55 486.9,685.93C490.5,686.31 494.32,686.9 498.35,687.2C502.38,687.5 506.3,687.58 511.08,687.71C515.85,687.84 524.33,687.92 526.98,687.96" fill="none" stroke="#000" stroke-width="1.25" stroke-linejoin="round"/>
</g>
<g clip-path="url(#cp12)">
<path d="M527,688.09C528.06,687.67 531.24,686.71 533.36,685.55C535.48,684.38 537.6,682.89 539.73,681.09C541.85,679.29 543.97,677.27 546.09,674.73C548.21,672.18 550.33,669.42 552.45,665.82C554.57,662.21 556.9,657.33 558.81,653.09C560.72,648.85 562.21,645.03 563.9,640.36C565.6,635.7 567.4,630.18 568.99,625.09C570.58,620 572.07,614.91 573.45,609.82C574.83,604.73 575.99,599.64 577.26,594.55C578.54,589.45 579.81,584.36 581.08,579.27C582.35,574.18 583.52,568.88 584.9,564C586.28,559.12 588.08,553.61 589.35,550C590.63,546.39 591.47,544.59 592.53,542.36C593.59,540.14 594.55,538.12 595.72,536.64C596.88,535.15 598.37,534.2 599.53,533.45C600.7,532.71 601.65,532.08 602.71,532.18C603.77,532.29 604.84,533.03 605.9,534.09C606.96,535.15 608.12,536.95 609.08,538.55C610.03,540.14 610.63,541.56 611.62,543.64C612.61,545.71 613.6,547.94 615,551C616.4,554.06 618.33,558.17 620,562C621.67,565.83 623.33,569.83 625,574C626.67,578.17 628.5,582.83 630,587C631.5,591.17 632.67,595.17 634,599C635.33,602.83 636.67,606.5 638,610C639.33,613.5 640.67,616.67 642,620C643.33,623.33 644.83,626.83 646,630C647.17,633.17 647.99,636.32 649,639C650.01,641.68 650.72,643.53 652.09,646.09C653.45,648.65 655.27,651.61 657.18,654.36C659.09,657.12 661.21,660.09 663.54,662.64C665.87,665.18 668.63,667.62 671.18,669.64C673.72,671.65 676.05,673.24 678.81,674.73C681.57,676.21 684.32,677.38 687.72,678.55C691.11,679.71 695.14,680.88 699.17,681.73C703.2,682.58 707.65,683.06 711.9,683.64C716.14,684.21 720.27,684.74 724.62,685.16C728.97,685.59 735.76,686.01 737.98,686.18L737.98,691 L527,691 Z" fill="#bc8f8f"/>
<path d="M527,685.93C527.85,685.33 530.39,683.81 532.09,682.36C533.79,680.92 535.48,679.29 537.18,677.27C538.88,675.26 540.57,673.03 542.27,670.27C543.97,667.52 545.77,664.23 547.36,660.73C548.95,657.23 550.44,653.3 551.81,649.27C553.19,645.24 554.36,641.21 555.63,636.55C556.9,631.88 558.28,626.36 559.45,621.27C560.62,616.18 561.57,611.52 562.63,606C563.69,600.48 564.86,593.7 565.81,588.18C566.77,582.67 567.51,578 568.36,572.91C569.2,567.82 570.12,562.3 570.9,557.64C571.69,552.97 572.43,548.3 573.06,544.91C573.7,541.52 574.02,541.09 574.72,537.27C575.42,533.45 576.42,527.09 577.26,522C578.11,516.91 578.96,511.82 579.81,506.73C580.66,501.64 581.51,496.55 582.35,491.45C583.2,486.36 584.05,481.27 584.9,476.18C585.75,471.09 586.62,465.58 587.44,460.91C588.27,456.24 589.16,451.68 589.86,448.18C590.56,444.68 591.16,442.03 591.64,439.91C592.13,437.79 592.47,436.47 592.79,435.45C593.11,434.44 593.28,433.69 593.55,433.8C593.83,433.91 594.02,434.12 594.44,436.09C594.87,438.06 595.42,441.92 596.1,445.64C596.78,449.35 597.58,453.7 598.52,458.36C599.45,463.03 600.64,468.12 601.7,473.64C602.76,479.15 603.82,485.52 604.88,491.45C605.94,497.39 607.1,503.76 608.06,509.27C609.01,514.79 609.76,519.45 610.6,524.55C611.45,529.64 612.45,535.58 613.15,539.82C613.85,544.06 614.1,545.55 614.8,550C615.5,554.45 616.39,560.82 617.35,566.55C618.3,572.27 619.47,578.64 620.53,584.36C621.59,590.09 622.65,595.61 623.71,600.91C624.77,606.21 625.83,611.09 626.89,616.18C627.95,621.27 629.06,627.21 630.07,631.45C631.09,635.7 632.09,638.45 633,641.64C633.91,644.82 634.59,647.58 635.55,650.55C636.5,653.52 637.56,656.48 638.73,659.45C639.89,662.42 641.17,665.71 642.54,668.36C643.92,671.02 645.41,673.24 647,675.36C648.59,677.48 650.18,679.5 652.09,681.09C654,682.68 656.12,683.85 658.45,684.91C660.78,685.97 663.33,686.78 666.09,687.45C668.84,688.13 671.6,688.62 674.99,688.98C678.39,689.34 680.72,689.47 686.45,689.62C692.17,689.77 705.53,689.83 709.35,689.87" fill="none" stroke="#000" stroke-width="1.15" stroke-dasharray="2.1 1.9"/>
<path d="M527,683.64C527.85,683 530.39,681.41 532.09,679.82C533.79,678.23 535.48,676.42 537.18,674.09C538.88,671.76 540.57,669.11 542.27,665.82C543.97,662.53 545.77,658.39 547.36,654.36C548.95,650.33 550.44,646.3 551.81,641.64C553.19,636.97 554.36,631.88 555.63,626.36C556.9,620.85 558.28,614.27 559.45,608.55C560.62,602.82 561.68,597.52 562.63,592C563.58,586.48 564.33,580.76 565.18,575.45C566.02,570.15 566.94,565.27 567.72,560.18C568.51,555.09 569.35,548.73 569.88,544.91C570.41,541.09 570.31,541.09 570.9,537.27C571.5,533.45 572.6,527.09 573.45,522C574.29,516.91 575.14,511.82 575.99,506.73C576.84,501.64 577.69,496.55 578.54,491.45C579.38,486.36 580.23,481.27 581.08,476.18C581.93,471.09 582.88,465.58 583.63,460.91C584.37,456.24 585.01,451.79 585.54,448.18C586.07,444.58 586.38,441.61 586.81,439.27C587.23,436.94 587.55,435.41 588.08,434.18C588.61,432.95 589.14,432.42 589.99,431.89C590.84,431.36 592.22,430.94 593.17,431C594.12,431.06 594.87,431.64 595.72,432.27C596.56,432.91 597.41,433.86 598.26,434.82C599.11,435.77 600.06,436.62 600.81,438C601.55,439.38 602.08,440.76 602.71,443.09C603.35,445.42 603.88,448.82 604.62,452C605.37,455.18 606.21,458.79 607.17,462.18C608.12,465.58 609.29,468.76 610.35,472.36C611.41,475.97 612.36,479.36 613.53,483.82C614.7,488.27 616.08,493.36 617.35,499.09C618.62,504.82 620,512.24 621.17,518.18C622.33,524.12 623.39,529.42 624.35,534.73C625.3,540.03 626.15,545.76 626.89,550C627.63,554.24 628.16,556.79 628.8,560.18C629.44,563.58 630.01,567.18 630.71,570.36C631.41,573.55 632.19,575.67 633,579.27C633.81,582.88 634.59,587.55 635.55,592C636.5,596.45 637.56,601.33 638.73,606C639.89,610.67 641.17,615.76 642.54,620C643.92,624.24 645.41,627.85 647,631.45C648.59,635.06 650.82,639.3 652.09,641.64C653.36,643.97 653.15,643.55 654.63,645.45C656.12,647.36 658.87,650.55 661,653.09C663.12,655.64 665.13,658.08 667.36,660.73C669.58,663.38 671.6,666.77 674.36,669C677.11,671.23 681.04,672.92 683.9,674.09C686.76,675.26 688.99,675.36 691.54,676C694.08,676.64 696.2,677.38 699.17,677.91C702.14,678.44 705.96,678.76 709.35,679.18C712.74,679.61 716.56,679.92 719.53,680.45C722.5,680.98 724.09,681.66 727.17,682.36C730.24,683.06 736.18,684.27 737.98,684.65" fill="none" stroke="#000" stroke-width="1.25" stroke-linejoin="round"/>
</g>
<g clip-path="url(#cp20)">
<path d="M106.55,969.62C107.39,969.51 108.88,969.51 111.64,968.98C114.39,968.45 119.91,967.43 123.09,966.44C126.27,965.44 128.39,964.53 130.72,963C133.06,961.47 135.18,959.5 137.09,957.27C138.99,955.05 140.58,952.61 142.18,949.64C143.77,946.67 145.25,943.06 146.63,939.45C148.01,935.85 149.28,932.24 150.45,928C151.61,923.76 152.57,919.09 153.63,914C154.69,908.91 155.79,902.76 156.81,897.45C157.83,892.15 158.78,886.64 159.74,882.18C160.69,877.73 161.54,873.32 162.54,870.73C163.53,868.14 164.7,866.97 165.72,866.65C166.73,866.34 167.69,867.29 168.64,868.82C169.6,870.35 170.45,872.95 171.44,875.82C172.44,878.68 173.46,882.18 174.62,886C175.79,889.82 177.06,894.27 178.44,898.73C179.82,903.18 181.3,908.06 182.9,912.73C184.49,917.39 186.29,922.59 187.99,926.73C189.68,930.86 191.38,934.36 193.08,937.55C194.77,940.73 196.26,943.17 198.17,945.82C200.07,948.47 202.56,951.33 204.53,953.45C206.5,955.58 208.24,957.27 210,958.55C211.76,959.82 212.97,960.2 215.09,961.09C217.21,961.98 219.76,963.04 222.73,963.89C225.69,964.74 229.3,965.52 232.91,966.18C236.51,966.84 240.12,967.39 244.36,967.84C248.6,968.28 253.48,968.6 258.36,968.85C263.23,969.11 266.84,969.22 273.63,969.36C280.41,969.51 294.83,969.68 299.08,969.75L299.08,971 L106.55,971 Z" fill="#bc8f8f"/>
<path d="M104,968.47C105.7,968.2 111,967.62 114.18,966.82C117.36,966.01 120.54,964.8 123.09,963.64C125.63,962.47 127.54,961.3 129.45,959.82C131.36,958.33 133.01,956.85 134.54,954.73C136.07,952.61 137.4,949.85 138.61,947.09C139.82,944.33 140.82,941.58 141.79,938.18C142.77,934.79 143.66,930.97 144.47,926.73C145.27,922.48 145.95,917.82 146.63,912.73C147.31,907.64 147.9,902.12 148.54,896.18C149.17,890.24 149.81,883.88 150.45,877.09C151.08,870.3 151.72,863.3 152.36,855.45C152.99,847.61 153.84,836.36 154.26,830C154.69,823.64 154.58,823.64 154.9,817.27C155.22,810.91 155.75,800.3 156.17,791.82C156.6,783.33 157.02,774.85 157.45,766.36C157.87,757.88 158.29,748.33 158.72,740.91C159.14,733.48 159.57,727.12 159.99,721.82C160.41,716.52 160.92,712.27 161.26,709.09C161.6,705.91 161.81,704.25 162.03,702.73C162.24,701.2 162.37,699.93 162.54,699.93C162.71,699.93 162.83,701.2 163.04,702.73C163.26,704.25 163.47,705.91 163.81,709.09C164.15,712.27 164.66,716.52 165.08,721.82C165.5,727.12 165.93,733.48 166.35,740.91C166.78,748.33 167.2,757.88 167.63,766.36C168.05,774.85 168.52,783.33 168.9,791.82C169.28,800.3 169.64,810.91 169.92,817.27C170.19,823.64 170.26,824.7 170.55,830C170.85,835.3 171.29,842.73 171.7,849.09C172.1,855.45 172.48,861.82 172.97,868.18C173.46,874.55 174.03,881.33 174.62,887.27C175.22,893.21 175.83,898.52 176.53,903.82C177.23,909.12 178.02,914.42 178.82,919.09C179.63,923.76 180.37,927.79 181.37,931.82C182.37,935.85 183.49,939.88 184.8,943.27C186.12,946.67 187.46,949.53 189.26,952.18C191.06,954.83 193.29,957.17 195.62,959.18C197.95,961.2 200.86,962.94 203.26,964.27C205.65,965.61 207.18,966.52 210,967.2C212.82,967.88 215.94,968.01 220.18,968.35C224.42,968.68 229.72,969 235.45,969.24C241.18,969.47 247.11,969.64 254.54,969.75C261.96,969.85 275.75,969.85 279.99,969.87" fill="none" stroke="#000" stroke-width="1.15" stroke-dasharray="2.1 1.9"/>
<path d="M104,968.09C105.7,967.77 111.21,966.92 114.18,966.18C117.15,965.44 119.48,964.7 121.82,963.64C124.15,962.58 126.27,961.3 128.18,959.82C130.09,958.33 131.68,956.85 133.27,954.73C134.86,952.61 136.45,949.85 137.72,947.09C138.99,944.33 139.95,941.58 140.9,938.18C141.86,934.79 142.64,930.97 143.45,926.73C144.25,922.48 145.06,917.82 145.74,912.73C146.42,907.64 146.95,902.12 147.52,896.18C148.09,890.24 148.64,883.88 149.17,877.09C149.7,870.3 150.26,863.3 150.7,855.45C151.15,847.61 151.4,838.48 151.85,830C152.29,821.52 152.91,812.61 153.37,804.55C153.84,796.48 154.22,788.85 154.65,781.64C155.07,774.42 155.45,768.06 155.92,761.27C156.38,754.48 156.96,747.06 157.45,740.91C157.93,734.76 158.36,728.92 158.85,724.36C159.33,719.8 160.01,716.03 160.37,713.55C160.73,711.06 160.8,710.43 161.01,709.47C161.22,708.52 161.43,708.2 161.64,707.82C161.86,707.44 162.07,707.18 162.28,707.18C162.49,707.18 162.68,707.44 162.92,707.82C163.15,708.2 163.43,708.62 163.68,709.47C163.94,710.32 164.02,710.43 164.44,712.91C164.87,715.39 165.59,719.27 166.23,724.36C166.86,729.45 167.6,736.88 168.26,743.45C168.92,750.03 169.43,756.18 170.17,763.82C170.91,771.45 171.87,781.42 172.72,789.27C173.56,797.12 174.45,804.12 175.26,810.91C176.07,817.7 176.81,824.06 177.55,830C178.29,835.94 178.93,840.82 179.71,846.55C180.5,852.27 181.3,858.42 182.26,864.36C183.21,870.3 184.27,876.67 185.44,882.18C186.61,887.7 187.88,892.58 189.26,897.45C190.64,902.33 192.23,907.21 193.71,911.45C195.2,915.7 196.68,919.52 198.17,922.91C199.65,926.3 201.24,929.38 202.62,931.82C204,934.26 205.21,936.06 206.44,937.55C207.67,939.03 208.56,939.45 210,940.73C211.44,942 213.39,943.65 215.09,945.18C216.79,946.71 217.85,948.51 220.18,949.89C222.51,951.27 226.12,952.27 229.09,953.45C232.06,954.64 234.81,955.81 238,957.02C241.18,958.23 244.36,959.78 248.18,960.71C251.99,961.64 256.66,962.02 260.9,962.62C265.14,963.21 269.38,963.85 273.63,964.27C277.87,964.7 282.11,964.85 286.35,965.16C290.59,965.48 295.68,965.88 299.08,966.18C302.47,966.48 304.06,966.69 306.71,966.95C309.36,967.2 313.6,967.58 314.98,967.71" fill="none" stroke="#000" stroke-width="1.25" stroke-linejoin="round"/>
</g>
<g clip-path="url(#cp21)">
<path d="M327.45,969.62C328.73,969.51 332.12,969.51 335.09,968.98C338.06,968.45 342.4,967.54 345.27,966.44C348.13,965.33 350.15,964.32 352.27,962.36C354.39,960.41 356.4,957.7 357.99,954.73C359.58,951.76 360.64,948.36 361.81,944.55C362.98,940.73 364.04,936.27 364.99,931.82C365.95,927.36 366.69,922.91 367.54,917.82C368.38,912.73 369.23,906.79 370.08,901.27C370.93,895.76 371.78,889.61 372.63,884.73C373.47,879.85 374.32,875.18 375.17,872C376.02,868.82 376.97,866.95 377.72,865.64C378.46,864.32 378.88,863.9 379.63,864.11C380.37,864.32 381.22,864.96 382.17,866.91C383.12,868.86 384.29,872.64 385.35,875.82C386.41,879 387.37,882.18 388.53,886C389.7,889.82 390.87,894.27 392.35,898.73C393.84,903.18 395.74,908.27 397.44,912.73C399.14,917.18 400.62,921.42 402.53,925.45C404.44,929.48 406.77,933.41 408.89,936.91C411.01,940.41 413.07,943.59 415.26,946.45C417.44,949.32 420.03,952.08 422,954.09C423.97,956.11 425.18,957.23 427.09,958.55C429,959.86 431.12,960.96 433.45,961.98C435.79,963 438.33,963.89 441.09,964.65C443.84,965.42 446.81,966.03 450,966.56C453.18,967.09 456.36,967.48 460.18,967.84C463.99,968.2 468.66,968.49 472.9,968.73C477.14,968.96 479.26,969.09 485.63,969.24C491.99,969.38 506.83,969.55 511.08,969.62L511.08,971 L327.45,971 Z" fill="#bc8f8f"/>
<path d="M316,968.47C317.7,968.2 323,967.52 326.18,966.82C329.36,966.12 332.33,965.44 335.09,964.27C337.84,963.11 340.5,961.41 342.72,959.82C344.95,958.23 346.75,956.85 348.45,954.73C350.15,952.61 351.63,949.95 352.9,947.09C354.18,944.23 355.17,941.05 356.08,937.55C357,934.05 357.7,930.33 358.37,926.09C359.05,921.85 359.63,917.08 360.16,912.09C360.69,907.11 361.13,901.8 361.56,896.18C361.98,890.56 362.34,884.73 362.7,878.36C363.06,872 363.38,863.94 363.72,858C364.06,852.06 364.48,848.24 364.74,842.73C364.99,837.21 365.06,830.64 365.25,824.91C365.44,819.18 365.61,815.36 365.88,808.36C366.16,801.36 366.52,791.82 366.9,782.91C367.28,774 367.75,763.39 368.17,754.91C368.6,746.42 369.06,738.36 369.45,732C369.83,725.64 370.19,720.55 370.46,716.73C370.74,712.91 370.91,710.72 371.1,709.09C371.29,707.46 371.44,706.93 371.61,706.93C371.78,706.93 371.91,707.46 372.12,709.09C372.33,710.72 372.58,712.91 372.88,716.73C373.18,720.55 373.56,725.85 373.9,732C374.24,738.15 374.6,745.79 374.92,753.64C375.24,761.48 375.49,770.61 375.81,779.09C376.13,787.58 376.47,796.06 376.83,804.55C377.19,813.03 377.65,822.58 377.97,830C378.29,837.42 378.46,843.36 378.73,849.09C379.01,854.82 379.26,858.64 379.63,864.36C379.99,870.09 380.41,877.3 380.9,883.45C381.39,889.61 381.92,895.55 382.55,901.27C383.19,907 383.93,912.73 384.72,917.82C385.5,922.91 386.31,927.68 387.26,931.82C388.21,935.95 389.17,939.24 390.44,942.64C391.71,946.03 393.09,949.32 394.9,952.18C396.7,955.05 398.71,957.7 401.26,959.82C403.8,961.94 406.71,963.53 410.17,964.91C413.62,966.29 417.91,967.39 422,968.09C426.09,968.79 428.36,968.83 434.73,969.11C441.09,969.38 451.69,969.62 460.18,969.75C468.66,969.87 481.38,969.85 485.63,969.87" fill="none" stroke="#000" stroke-width="1.15" stroke-dasharray="2.1 1.9"/>
<path d="M316,968.73C317.7,968.47 323,967.84 326.18,967.2C329.36,966.56 332.33,965.93 335.09,964.91C337.84,963.89 340.5,962.58 342.72,961.09C344.95,959.61 346.75,958.12 348.45,956C350.15,953.88 351.63,951.33 352.9,948.36C354.18,945.39 355.19,941.79 356.08,938.18C356.97,934.58 357.61,930.97 358.25,926.73C358.88,922.48 359.41,917.82 359.9,912.73C360.39,907.64 360.79,901.91 361.17,896.18C361.56,890.45 361.87,884.73 362.19,878.36C362.51,872 362.81,863.94 363.08,858C363.36,852.06 363.61,848.03 363.85,842.73C364.08,837.42 364.25,832.12 364.48,826.18C364.72,820.24 364.95,814.94 365.25,807.09C365.54,799.24 365.88,788.42 366.26,779.09C366.65,769.76 367.11,759.36 367.54,751.09C367.96,742.82 368.38,735.61 368.81,729.45C369.23,723.3 369.72,717.75 370.08,714.18C370.44,710.62 370.72,709.39 370.97,708.07C371.23,706.76 371.4,706.29 371.61,706.29C371.82,706.29 371.97,706.76 372.24,708.07C372.52,709.39 372.84,710.41 373.26,714.18C373.69,717.96 374.26,724.58 374.79,730.73C375.32,736.88 375.89,744.09 376.44,751.09C377,758.09 377.46,765.3 378.1,772.73C378.73,780.15 379.54,788.64 380.26,795.64C380.98,802.64 381.68,809 382.42,814.73C383.17,820.45 384.02,824.91 384.72,830C385.42,835.09 385.88,839.76 386.62,845.27C387.37,850.79 388.21,857.15 389.17,863.09C390.12,869.03 391.18,875.39 392.35,880.91C393.52,886.42 394.79,891.09 396.17,896.18C397.55,901.27 399.14,907 400.62,911.45C402.11,915.91 403.48,919.3 405.08,922.91C406.67,926.52 408.58,930.33 410.17,933.09C411.76,935.85 413.24,937.97 414.62,939.45C416,940.94 417.21,941.26 418.44,942C419.67,942.74 420.56,942.74 422,943.91C423.44,945.08 425.61,947.73 427.09,949C428.57,950.27 429.21,950.17 430.91,951.55C432.6,952.92 434.62,955.32 437.27,957.27C439.92,959.22 443.53,961.94 446.81,963.25C450.1,964.57 453.71,965.1 456.99,965.16C460.28,965.23 463.25,963.68 466.54,963.64C469.83,963.59 473.32,964.55 476.72,964.91C480.11,965.27 483.29,965.48 486.9,965.8C490.5,966.12 494.32,966.61 498.35,966.82C502.38,967.03 506.3,967.01 511.08,967.07C515.85,967.14 524.33,967.18 526.98,967.2" fill="none" stroke="#000" stroke-width="1.25" stroke-linejoin="round"/>
</g>
<g clip-path="url(#cp22)">
<path d="M527,968.47C528.27,968.05 532.09,967.16 534.64,965.93C537.18,964.7 539.73,963.17 542.27,961.09C544.82,959.01 547.57,956.21 549.91,953.45C552.24,950.7 554.15,948.15 556.27,944.55C558.39,940.94 560.72,936.06 562.63,931.82C564.54,927.58 566.02,923.55 567.72,919.09C569.42,914.64 571.11,909.97 572.81,905.09C574.51,900.21 576.42,894.48 577.9,889.82C579.38,885.15 580.45,881.33 581.72,877.09C582.99,872.85 584.26,868.39 585.54,864.36C586.81,860.33 588.08,856.2 589.35,852.91C590.63,849.62 591.79,846.86 593.17,844.64C594.55,842.41 596.14,840.67 597.62,839.55C599.11,838.42 600.7,838.04 602.08,837.89C603.46,837.74 604.83,838.05 605.9,838.65C606.97,839.26 607.65,840.28 608.5,841.5C609.35,842.72 609.92,843.92 611,846C612.08,848.08 613.5,851.17 615,854C616.5,856.83 618.5,859.83 620,863C621.5,866.17 622.67,869.67 624,873C625.33,876.33 626.67,879.5 628,883C629.33,886.5 630.67,890.5 632,894C633.33,897.5 634.92,901.33 636,904C637.08,906.67 637.62,907.7 638.5,910C639.38,912.3 639.96,914.82 641.27,917.82C642.58,920.82 644.56,924.82 646.36,928C648.16,931.18 650.07,934.15 652.09,936.91C654.1,939.67 656.12,942.21 658.45,944.55C660.78,946.88 663.33,949 666.09,950.91C668.84,952.82 671.81,954.52 674.99,956C678.17,957.48 681.57,958.65 685.17,959.82C688.78,960.98 692.6,962.15 696.63,963C700.66,963.85 705.11,964.38 709.35,964.91C713.59,965.44 717.3,965.8 722.08,966.18C726.85,966.56 735.33,967.03 737.98,967.2L737.98,971 L527,971 Z" fill="#bc8f8f"/>
<path d="M527,965.55C527.85,965.02 530.39,963.74 532.09,962.36C533.79,960.98 535.48,959.29 537.18,957.27C538.88,955.26 540.57,953.03 542.27,950.27C543.97,947.52 545.77,944.23 547.36,940.73C548.95,937.23 550.44,933.52 551.81,929.27C553.19,925.03 554.36,920.15 555.63,915.27C556.9,910.39 558.28,905.09 559.45,900C560.62,894.91 561.57,890.24 562.63,884.73C563.69,879.21 564.86,872.42 565.81,866.91C566.77,861.39 567.51,856.52 568.36,851.64C569.2,846.76 570.1,841.67 570.9,837.64C571.71,833.61 572.34,831.7 573.19,827.45C574.04,823.21 574.99,817.91 575.99,812.18C576.99,806.45 578.11,799.45 579.17,793.09C580.23,786.73 581.29,780.36 582.35,774C583.41,767.64 584.47,761.06 585.54,754.91C586.6,748.76 587.76,742.39 588.72,737.09C589.67,731.79 590.52,726.7 591.26,723.09C592,719.48 592.64,717.32 593.17,715.45C593.7,713.59 594.02,711.89 594.44,711.89C594.87,711.89 595.19,713.16 595.72,715.45C596.25,717.75 596.88,721.61 597.62,725.64C598.37,729.67 599.21,734.55 600.17,739.64C601.12,744.73 602.29,750.45 603.35,756.18C604.41,761.91 605.47,768.27 606.53,774C607.59,779.73 608.65,784.82 609.71,790.55C610.77,796.27 611.94,803.06 612.89,808.36C613.85,813.67 614.85,818.33 615.44,822.36C616.03,826.39 616.03,829.15 616.46,832.55C616.88,835.94 617.2,838.27 617.98,842.73C618.77,847.18 620.11,853.76 621.17,859.27C622.23,864.79 623.29,870.3 624.35,875.82C625.41,881.33 626.47,887.06 627.53,892.36C628.59,897.67 629.8,903.39 630.71,907.64C631.62,911.88 632.19,914.64 633,917.82C633.81,921 634.59,923.55 635.55,926.73C636.5,929.91 637.56,933.73 638.73,936.91C639.89,940.09 641.17,943.06 642.54,945.82C643.92,948.58 645.41,951.12 647,953.45C648.59,955.79 650.18,958.02 652.09,959.82C654,961.62 656.12,963.04 658.45,964.27C660.78,965.5 663.33,966.42 666.09,967.2C668.84,967.98 671.6,968.58 674.99,968.98C678.39,969.38 680.72,969.47 686.45,969.62C692.17,969.77 705.53,969.83 709.35,969.87" fill="none" stroke="#000" stroke-width="1.15" stroke-dasharray="2.1 1.9"/>
<path d="M527,963C527.85,962.36 530.39,960.77 532.09,959.18C533.79,957.59 535.48,955.79 537.18,953.45C538.88,951.12 540.57,948.58 542.27,945.18C543.97,941.79 545.77,937.44 547.36,933.09C548.95,928.74 550.44,923.97 551.81,919.09C553.19,914.21 554.36,909.33 555.63,903.82C556.9,898.3 558.28,891.73 559.45,886C560.62,880.27 561.68,874.76 562.63,869.45C563.58,864.15 564.33,859.27 565.18,854.18C566.02,849.09 566.98,843.58 567.72,838.91C568.46,834.24 568.99,830.21 569.63,826.18C570.27,822.15 570.69,820.03 571.54,814.73C572.39,809.42 573.66,800.94 574.72,794.36C575.78,787.79 576.84,781.64 577.9,775.27C578.96,768.91 580.13,761.91 581.08,756.18C582.04,750.45 582.88,745.36 583.63,740.91C584.37,736.45 585.01,732.85 585.54,729.45C586.07,726.06 586.28,722.77 586.81,720.55C587.34,718.32 587.87,717.47 588.72,716.09C589.57,714.71 590.94,713.4 591.9,712.27C592.85,711.15 593.7,709.94 594.44,709.35C595.19,708.75 595.72,708.43 596.35,708.71C596.99,708.98 597.56,709.66 598.26,711C598.96,712.34 599.81,714.5 600.55,716.73C601.29,718.95 601.82,720.97 602.71,724.36C603.61,727.76 604.79,732.64 605.9,737.09C607,741.55 608.16,746.42 609.33,751.09C610.5,755.76 611.69,760 612.89,765.09C614.1,770.18 615.31,775.7 616.58,781.64C617.86,787.58 619.46,795.5 620.53,800.73C621.6,805.95 622.2,808.79 623,813C623.8,817.21 624.47,821.5 625.3,826C626.13,830.5 627.05,835.5 628,840C628.95,844.5 630,848.67 631,853C632,857.33 633,861.83 634,866C635,870.17 636,874.17 637,878C638,881.83 639,885.5 640,889C641,892.5 641.83,895.5 643,899C644.17,902.5 645.49,906.02 647,910C648.51,913.98 650.6,919.8 652.09,922.91C653.57,926.02 654.21,926.52 655.91,928.64C657.6,930.76 660.15,933.3 662.27,935.64C664.39,937.97 666.3,940.2 668.63,942.64C670.96,945.08 673.51,948.36 676.27,950.27C679.02,952.18 682.42,953.14 685.17,954.09C687.93,955.05 690.05,955.36 692.81,956C695.57,956.64 698.53,957.38 701.72,957.91C704.9,958.44 708.71,958.8 711.9,959.18C715.08,959.56 718.05,959.67 720.8,960.2C723.56,960.73 725.58,961.62 728.44,962.36C731.3,963.11 736.39,964.27 737.98,964.65" fill="none" stroke="#000" stroke-width="1.25" stroke-linejoin="round"/>
</g>
<path d="M104,129.5V970.5M315.43,129.5V970.5M526.87,129.5V970.5M738.3,129.5V970.5M103.5,130H738.8M103.5,410H738.8M103.5,690H738.8M103.5,970H738.8" fill="none" stroke="#000" stroke-width="1"/>
<text x="209.72" y="113.1" font-size="20.0" text-anchor="middle">NGC2477</text>
<text x="421.15" y="113.1" font-size="20.0" text-anchor="middle">NGC2516</text>
<text x="632.59" y="113.1" font-size="20.0" text-anchor="middle">NGC7762</text>
<text x="91.3" y="417" font-size="20.0" text-anchor="end">0</text>
<text x="91.3" y="363.67" font-size="20.0" text-anchor="end">0.2</text>
<text x="91.3" y="310.33" font-size="20.0" text-anchor="end">0.4</text>
<text x="91.3" y="257" font-size="20.0" text-anchor="end">0.6</text>
<text x="91.3" y="203.67" font-size="20.0" text-anchor="end">0.8</text>
<text x="91.3" y="150.33" font-size="20.0" text-anchor="end">1</text>
<text x="91.3" y="697" font-size="20.0" text-anchor="end">0</text>
<text x="91.3" y="643.67" font-size="20.0" text-anchor="end">0.2</text>
<text x="91.3" y="590.33" font-size="20.0" text-anchor="end">0.4</text>
<text x="91.3" y="537" font-size="20.0" text-anchor="end">0.6</text>
<text x="91.3" y="483.67" font-size="20.0" text-anchor="end">0.8</text>
<text x="91.3" y="430.33" font-size="20.0" text-anchor="end">1</text>
<text x="91.3" y="977" font-size="20.0" text-anchor="end">0</text>
<text x="91.3" y="923.67" font-size="20.0" text-anchor="end">0.2</text>
<text x="91.3" y="870.33" font-size="20.0" text-anchor="end">0.4</text>
<text x="91.3" y="817" font-size="20.0" text-anchor="end">0.6</text>
<text x="91.3" y="763.67" font-size="20.0" text-anchor="end">0.8</text>
<text x="91.3" y="710.33" font-size="20.0" text-anchor="end">1</text>
<text x="154.34" y="993.4" font-size="20.0" text-anchor="middle">0</text>
<text x="184.54" y="993.4" font-size="20.0" text-anchor="middle">15</text>
<text x="214.75" y="993.4" font-size="20.0" text-anchor="middle">30</text>
<text x="244.95" y="993.4" font-size="20.0" text-anchor="middle">45</text>
<text x="275.16" y="993.4" font-size="20.0" text-anchor="middle">60</text>
<text x="305.36" y="993.4" font-size="20.0" text-anchor="middle">75</text>
<text x="365.77" y="993.4" font-size="20.0" text-anchor="middle">0</text>
<text x="395.97" y="993.4" font-size="20.0" text-anchor="middle">15</text>
<text x="426.18" y="993.4" font-size="20.0" text-anchor="middle">30</text>
<text x="456.38" y="993.4" font-size="20.0" text-anchor="middle">45</text>
<text x="486.59" y="993.4" font-size="20.0" text-anchor="middle">60</text>
<text x="516.79" y="993.4" font-size="20.0" text-anchor="middle">75</text>
<text x="577.21" y="993.4" font-size="20.0" text-anchor="middle">0</text>
<text x="607.41" y="993.4" font-size="20.0" text-anchor="middle">15</text>
<text x="637.62" y="993.4" font-size="20.0" text-anchor="middle">30</text>
<text x="667.82" y="993.4" font-size="20.0" text-anchor="middle">45</text>
<text x="698.03" y="993.4" font-size="20.0" text-anchor="middle">60</text>
<text x="728.23" y="993.4" font-size="20.0" text-anchor="middle">75</text>
<text x="297.5" y="159.9" font-size="20.0" text-anchor="end">385 stars</text>
<text x="502" y="166" font-size="20.0" text-anchor="end">56 stars</text>
<text x="718" y="164" font-size="20.0" text-anchor="end">113 stars</text>
<text x="292" y="444" font-size="20.0" text-anchor="end">850 stars</text>
<text x="499.3" y="444" font-size="20.0" text-anchor="end">207 stars</text>
<text x="720.7" y="452" font-size="20.0" text-anchor="end">181 stars</text>
<text x="290" y="725" font-size="20.0" text-anchor="end">1235 stars</text>
<text x="488" y="723.5" font-size="20.0" text-anchor="end">263 stars</text>
<text x="726.5" y="727.2" font-size="20.0" text-anchor="end">294 stars</text>
<text transform="translate(48.8,328.5) rotate(-90)" font-size="20.0"><tspan class="sy" font-size="21.0">ϕ</tspan>(<tspan class="sy" font-size="21.0">μ</tspan><tspan font-size="12.5" dy="6">os</tspan><tspan dy="-6">) [0’−5’]</tspan></text>
<text transform="translate(48.8,613.5) rotate(-90)" font-size="20.0"><tspan class="sy" font-size="21.0">ϕ</tspan>(<tspan class="sy" font-size="21.0">μ</tspan><tspan font-size="12.5" dy="6">os</tspan><tspan dy="-6">) [5’−20’]</tspan></text>
<text transform="translate(48.8,893.5) rotate(-90)" font-size="20.0"><tspan class="sy" font-size="21.0">ϕ</tspan>(<tspan class="sy" font-size="21.0">μ</tspan><tspan font-size="12.5" dy="6">os</tspan><tspan dy="-6">) [0’−20’]</tspan></text>
<text class="sy" x="333.2" y="1019.4" font-size="27">μ</text>
<text x="347.3" y="1026.7" font-size="15.6">os</text>
<text x="371.3" y="1019.4" font-size="25">(mas yr</text>
<text x="454.2" y="1004.6999999999999" font-size="15">−1</text>
<text x="471.2" y="1019.4" font-size="25">)</text>
<path d="M211.3,212.7h21.2" stroke="#bc8f8f" stroke-width="0.8"/>
<path d="M211.3,233.9h21.2" stroke="#000" stroke-width="1.25"/>
<path d="M211.1,255.3h22" stroke="#000" stroke-width="1.1" stroke-dasharray="2.7 1.3"/>
<text x="242.2" y="218.9" font-size="16.8">Field</text>
<text x="242.2" y="240.0" font-size="16.8">Observed</text>
<text x="242.2" y="261.2" font-size="16.8">PSF</text>
</svg></body></html>
